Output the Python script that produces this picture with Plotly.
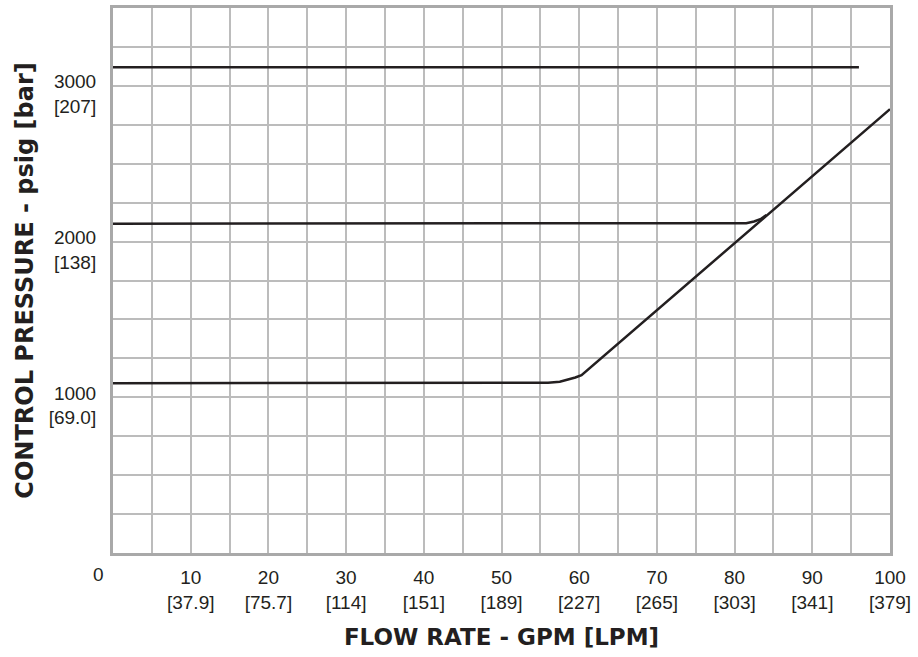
import plotly.graph_objects as go

# ---- data ----
flow_top = [0, 96]
press_top = [3120, 3120]

flow_mid = [0, 80.3, 81.5, 82.5, 83.4, 84.1]
press_mid = [2115, 2115, 2118, 2129, 2146, 2171]

flow_low = [0, 54, 56, 57.5, 58.5, 59.5, 60.3, 100]
press_low = [1090, 1090, 1093, 1100, 1112, 1127, 1142, 2850]

x_tick_vals = [10, 20, 30, 40, 50, 60, 70, 80, 90, 100]
x_tick_gpm = ["10", "20", "30", "40", "50", "60", "70", "80", "90", "100"]
x_tick_lpm = ["[37.9]", "[75.7]", "[114]", "[151]", "[189]", "[227]",
              "[265]", "[303]", "[341]", "[379]"]

y_tick_vals = [1000, 2000, 3000]
y_tick_psig = ["1000", "2000", "3000"]
y_tick_bar = ["[69.0]", "[138]", "[207]"]

LINE = "#231f20"
GRID = "#bcbcbc"
BORDER = "#a9a9a9"
TICKFONT = dict(family="Liberation Sans, Arial, sans-serif", size=19, color="#231f20")
XTITLEFONT = dict(family="DejaVu Sans, Arial Black, sans-serif", size=23,
                  color="#231f20", weight="bold")
YTITLEFONT = dict(family="DejaVu Sans, Arial Black, sans-serif", size=24,
                  color="#231f20", weight="bold")

fig = go.Figure()
for xs, ys in [(flow_top, press_top), (flow_mid, press_mid), (flow_low, press_low)]:
    fig.add_trace(go.Scatter(x=xs, y=ys, mode="lines",
                             line=dict(color=LINE, width=2.5),
                             hoverinfo="skip", showlegend=False))

fig.update_layout(
    width=918, height=657,
    margin=dict(l=113, r=28, t=8, b=104, autoexpand=False),
    paper_bgcolor="white", plot_bgcolor="white",
    showlegend=False,
    xaxis=dict(
        range=[0, 100], tickmode="array", tickvals=x_tick_vals,
        ticktext=[f"{a}<br>{b}" for a, b in zip(x_tick_gpm, x_tick_lpm)],
        ticks="", tickfont=TICKFONT, ticklabelstandoff=5,
        showgrid=True, gridcolor=GRID, gridwidth=2,
        minor=dict(dtick=5, showgrid=True, gridcolor=GRID, gridwidth=2),
        zeroline=False, showline=True, mirror=True,
        linecolor=BORDER, linewidth=3, automargin=False,
        title=dict(text="FLOW RATE - GPM [LPM]", font=XTITLEFONT, standoff=18),
    ),
    yaxis=dict(
        range=[0, 3500], tickmode="array", tickvals=y_tick_vals,
        ticktext=[f"{a}<br>{b}" for a, b in zip(y_tick_psig, y_tick_bar)],
        ticks="", tickfont=TICKFONT, ticklabelstandoff=10, ticklabelshift=8,
        showgrid=True, gridcolor=GRID, gridwidth=2,
        minor=dict(dtick=250, showgrid=True, gridcolor=GRID, gridwidth=2),
        zeroline=False, showline=True, mirror=True,
        linecolor=BORDER, linewidth=3, automargin=False,
        title=dict(text="CONTROL PRESSURE - psig [bar]", font=YTITLEFONT, standoff=9),
    ),
    annotations=[dict(text="0", x=0, xref="x", y=0, yref="paper",
                      xanchor="center", yanchor="top", xshift=-15, yshift=-9,
                      showarrow=False, font=TICKFONT)],
)

fig.write_html("out.html",
               config={"displayModeBar": False, "staticPlot": True},
               post_script="document.body.style.margin='0';"
                           "document.body.style.padding='0';"
                           "document.documentElement.style.overflow='hidden';")
